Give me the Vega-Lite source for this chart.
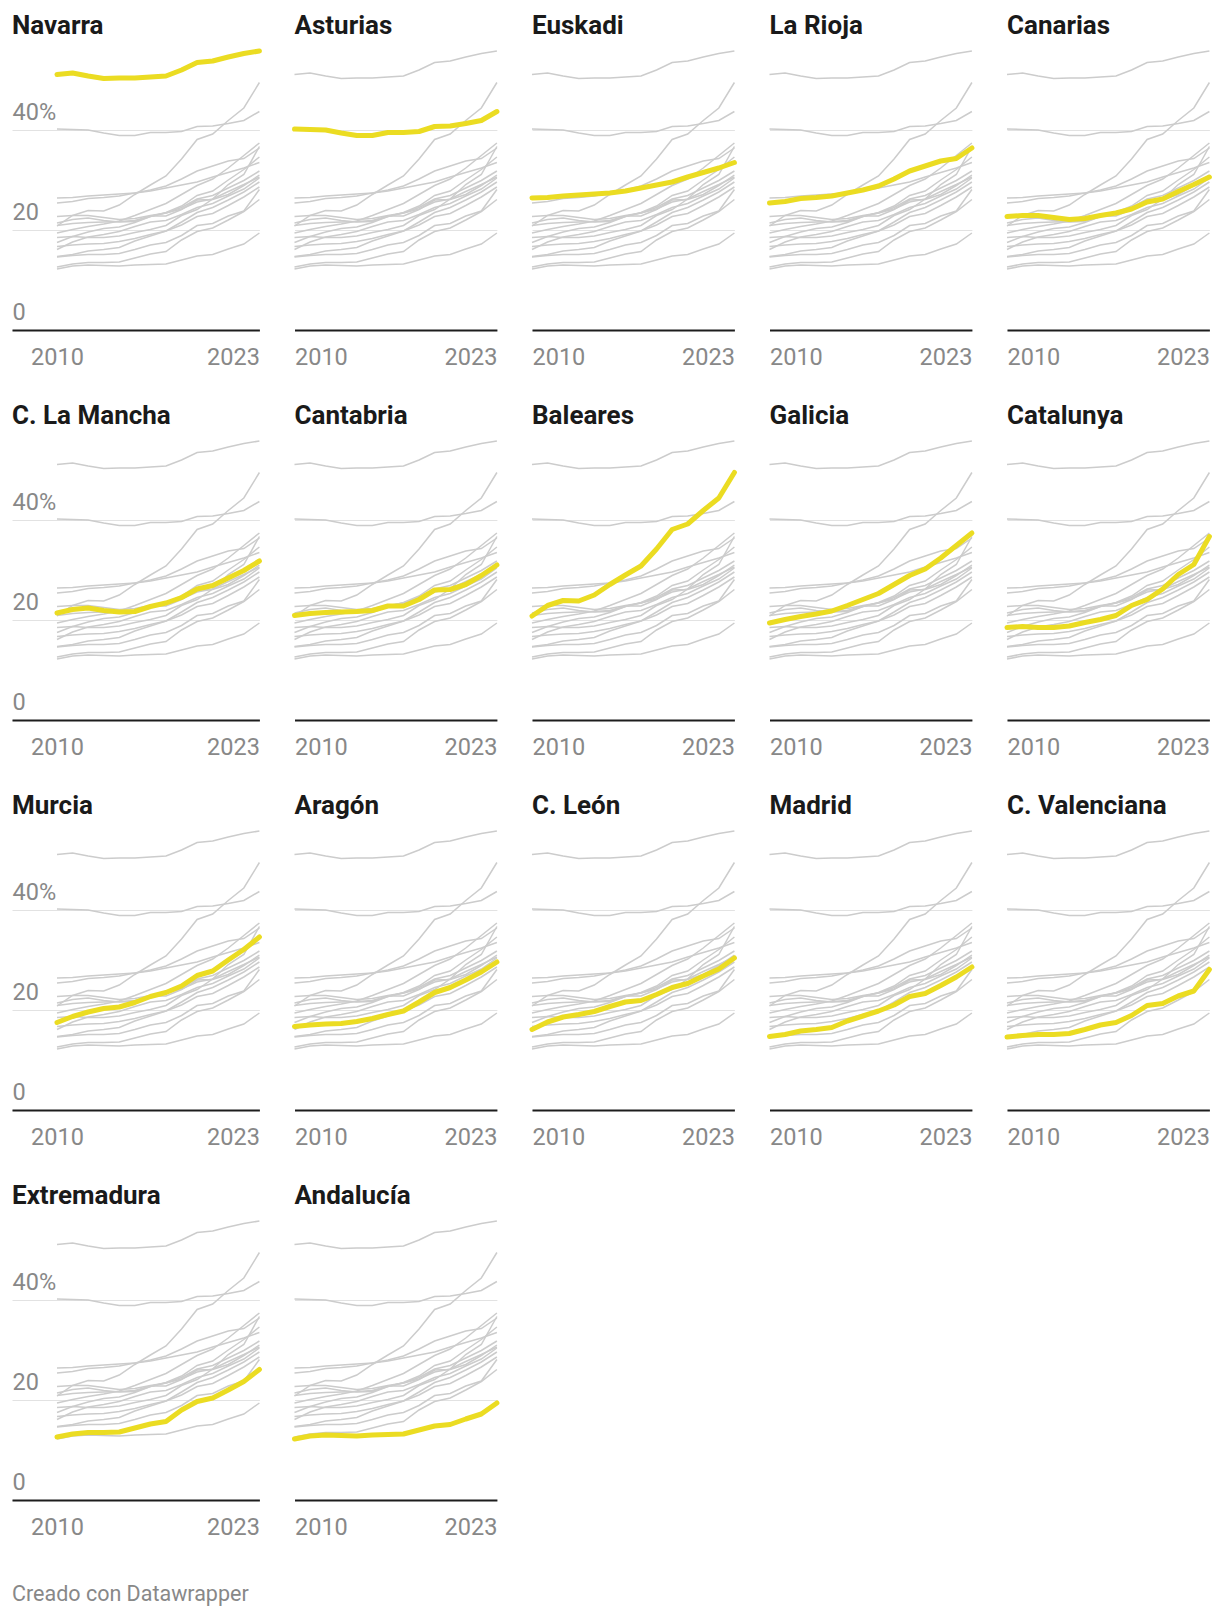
{
"$schema":"https://vega.github.io/schema/vega-lite/v6.json",
"background":"white",
"padding":{"left":12,"top":13,"right":10,"bottom":10},
"autosize":{"type":"pad"},
"title":{"text":"Creado con Datawrapper","orient":"bottom","anchor":"start","fontSize":21.5,"fontWeight":"normal","color":"#888888","baseline":"alphabetic","offset":62},
"columns":5,
"spacing":{"row":105,"column":34.5},
"align":"each",
"bounds":"flush",
"datasets":{"d":[
{"region":"Navarra","year":2010,"value":51.1},{"region":"Navarra","year":2011,"value":51.4},{"region":"Navarra","year":2012,"value":50.8},{"region":"Navarra","year":2013,"value":50.3},{"region":"Navarra","year":2014,"value":50.4},{"region":"Navarra","year":2015,"value":50.4},{"region":"Navarra","year":2016,"value":50.6},{"region":"Navarra","year":2017,"value":50.8},{"region":"Navarra","year":2018,"value":52.0},{"region":"Navarra","year":2019,"value":53.5},{"region":"Navarra","year":2020,"value":53.8},{"region":"Navarra","year":2021,"value":54.6},{"region":"Navarra","year":2022,"value":55.3},{"region":"Navarra","year":2023,"value":55.8},
{"region":"Asturias","year":2010,"value":40.2},{"region":"Asturias","year":2011,"value":40.1},{"region":"Asturias","year":2012,"value":40.0},{"region":"Asturias","year":2013,"value":39.4},{"region":"Asturias","year":2014,"value":38.9},{"region":"Asturias","year":2015,"value":38.9},{"region":"Asturias","year":2016,"value":39.5},{"region":"Asturias","year":2017,"value":39.5},{"region":"Asturias","year":2018,"value":39.7},{"region":"Asturias","year":2019,"value":40.7},{"region":"Asturias","year":2020,"value":40.8},{"region":"Asturias","year":2021,"value":41.3},{"region":"Asturias","year":2022,"value":41.9},{"region":"Asturias","year":2023,"value":43.7},
{"region":"Euskadi","year":2010,"value":26.4},{"region":"Euskadi","year":2011,"value":26.5},{"region":"Euskadi","year":2012,"value":26.8},{"region":"Euskadi","year":2013,"value":27.0},{"region":"Euskadi","year":2014,"value":27.2},{"region":"Euskadi","year":2015,"value":27.4},{"region":"Euskadi","year":2016,"value":27.8},{"region":"Euskadi","year":2017,"value":28.4},{"region":"Euskadi","year":2018,"value":29.0},{"region":"Euskadi","year":2019,"value":29.6},{"region":"Euskadi","year":2020,"value":30.6},{"region":"Euskadi","year":2021,"value":31.5},{"region":"Euskadi","year":2022,"value":32.4},{"region":"Euskadi","year":2023,"value":33.5},
{"region":"La Rioja","year":2010,"value":25.4},{"region":"La Rioja","year":2011,"value":25.7},{"region":"La Rioja","year":2012,"value":26.3},{"region":"La Rioja","year":2013,"value":26.5},{"region":"La Rioja","year":2014,"value":26.8},{"region":"La Rioja","year":2015,"value":27.4},{"region":"La Rioja","year":2016,"value":28.0},{"region":"La Rioja","year":2017,"value":28.8},{"region":"La Rioja","year":2018,"value":30.2},{"region":"La Rioja","year":2019,"value":31.8},{"region":"La Rioja","year":2020,"value":32.8},{"region":"La Rioja","year":2021,"value":33.8},{"region":"La Rioja","year":2022,"value":34.3},{"region":"La Rioja","year":2023,"value":36.4},
{"region":"Canarias","year":2010,"value":22.7},{"region":"Canarias","year":2011,"value":22.9},{"region":"Canarias","year":2012,"value":22.9},{"region":"Canarias","year":2013,"value":22.5},{"region":"Canarias","year":2014,"value":22.1},{"region":"Canarias","year":2015,"value":22.3},{"region":"Canarias","year":2016,"value":22.9},{"region":"Canarias","year":2017,"value":23.4},{"region":"Canarias","year":2018,"value":24.2},{"region":"Canarias","year":2019,"value":25.6},{"region":"Canarias","year":2020,"value":26.2},{"region":"Canarias","year":2021,"value":27.7},{"region":"Canarias","year":2022,"value":29.1},{"region":"Canarias","year":2023,"value":30.6},
{"region":"C. La Mancha","year":2010,"value":21.4},{"region":"C. La Mancha","year":2011,"value":22.1},{"region":"C. La Mancha","year":2012,"value":22.4},{"region":"C. La Mancha","year":2013,"value":21.9},{"region":"C. La Mancha","year":2014,"value":21.6},{"region":"C. La Mancha","year":2015,"value":21.7},{"region":"C. La Mancha","year":2016,"value":22.7},{"region":"C. La Mancha","year":2017,"value":23.4},{"region":"C. La Mancha","year":2018,"value":24.5},{"region":"C. La Mancha","year":2019,"value":26.2},{"region":"C. La Mancha","year":2020,"value":26.9},{"region":"C. La Mancha","year":2021,"value":28.4},{"region":"C. La Mancha","year":2022,"value":29.9},{"region":"C. La Mancha","year":2023,"value":31.8},
{"region":"Cantabria","year":2010,"value":20.9},{"region":"Cantabria","year":2011,"value":21.3},{"region":"Cantabria","year":2012,"value":21.5},{"region":"Cantabria","year":2013,"value":21.6},{"region":"Cantabria","year":2014,"value":21.7},{"region":"Cantabria","year":2015,"value":21.9},{"region":"Cantabria","year":2016,"value":22.8},{"region":"Cantabria","year":2017,"value":22.8},{"region":"Cantabria","year":2018,"value":24.1},{"region":"Cantabria","year":2019,"value":26.0},{"region":"Cantabria","year":2020,"value":26.1},{"region":"Cantabria","year":2021,"value":27.1},{"region":"Cantabria","year":2022,"value":28.9},{"region":"Cantabria","year":2023,"value":31.0},
{"region":"Baleares","year":2010,"value":20.8},{"region":"Baleares","year":2011,"value":22.9},{"region":"Baleares","year":2012,"value":23.9},{"region":"Baleares","year":2013,"value":23.8},{"region":"Baleares","year":2014,"value":25.0},{"region":"Baleares","year":2015,"value":27.1},{"region":"Baleares","year":2016,"value":29.0},{"region":"Baleares","year":2017,"value":30.8},{"region":"Baleares","year":2018,"value":34.2},{"region":"Baleares","year":2019,"value":38.1},{"region":"Baleares","year":2020,"value":39.2},{"region":"Baleares","year":2021,"value":41.9},{"region":"Baleares","year":2022,"value":44.4},{"region":"Baleares","year":2023,"value":49.5},
{"region":"Galicia","year":2010,"value":19.4},{"region":"Galicia","year":2011,"value":20.1},{"region":"Galicia","year":2012,"value":20.7},{"region":"Galicia","year":2013,"value":21.2},{"region":"Galicia","year":2014,"value":21.8},{"region":"Galicia","year":2015,"value":22.9},{"region":"Galicia","year":2016,"value":24.1},{"region":"Galicia","year":2017,"value":25.3},{"region":"Galicia","year":2018,"value":27.1},{"region":"Galicia","year":2019,"value":28.9},{"region":"Galicia","year":2020,"value":30.2},{"region":"Galicia","year":2021,"value":32.4},{"region":"Galicia","year":2022,"value":34.9},{"region":"Galicia","year":2023,"value":37.4},
{"region":"Catalunya","year":2010,"value":18.5},{"region":"Catalunya","year":2011,"value":18.7},{"region":"Catalunya","year":2012,"value":18.5},{"region":"Catalunya","year":2013,"value":18.5},{"region":"Catalunya","year":2014,"value":18.8},{"region":"Catalunya","year":2015,"value":19.5},{"region":"Catalunya","year":2016,"value":20.1},{"region":"Catalunya","year":2017,"value":20.9},{"region":"Catalunya","year":2018,"value":22.9},{"region":"Catalunya","year":2019,"value":24.1},{"region":"Catalunya","year":2020,"value":26.2},{"region":"Catalunya","year":2021,"value":29.1},{"region":"Catalunya","year":2022,"value":31.1},{"region":"Catalunya","year":2023,"value":36.7},
{"region":"Murcia","year":2010,"value":17.5},{"region":"Murcia","year":2011,"value":18.7},{"region":"Murcia","year":2012,"value":19.6},{"region":"Murcia","year":2013,"value":20.3},{"region":"Murcia","year":2014,"value":20.6},{"region":"Murcia","year":2015,"value":21.5},{"region":"Murcia","year":2016,"value":22.7},{"region":"Murcia","year":2017,"value":23.5},{"region":"Murcia","year":2018,"value":24.8},{"region":"Murcia","year":2019,"value":26.9},{"region":"Murcia","year":2020,"value":27.8},{"region":"Murcia","year":2021,"value":30.0},{"region":"Murcia","year":2022,"value":32.1},{"region":"Murcia","year":2023,"value":34.6},
{"region":"Aragón","year":2010,"value":16.7},{"region":"Aragón","year":2011,"value":17.0},{"region":"Aragón","year":2012,"value":17.2},{"region":"Aragón","year":2013,"value":17.3},{"region":"Aragón","year":2014,"value":17.7},{"region":"Aragón","year":2015,"value":18.3},{"region":"Aragón","year":2016,"value":19.1},{"region":"Aragón","year":2017,"value":19.8},{"region":"Aragón","year":2018,"value":21.6},{"region":"Aragón","year":2019,"value":23.5},{"region":"Aragón","year":2020,"value":24.5},{"region":"Aragón","year":2021,"value":26.0},{"region":"Aragón","year":2022,"value":27.6},{"region":"Aragón","year":2023,"value":29.6},
{"region":"C. León","year":2010,"value":16.1},{"region":"C. León","year":2011,"value":17.6},{"region":"C. León","year":2012,"value":18.6},{"region":"C. León","year":2013,"value":19.1},{"region":"C. León","year":2014,"value":19.7},{"region":"C. León","year":2015,"value":20.7},{"region":"C. León","year":2016,"value":21.6},{"region":"C. León","year":2017,"value":21.9},{"region":"C. León","year":2018,"value":23.1},{"region":"C. León","year":2019,"value":24.5},{"region":"C. León","year":2020,"value":25.3},{"region":"C. León","year":2021,"value":26.8},{"region":"C. León","year":2022,"value":28.2},{"region":"C. León","year":2023,"value":30.4},
{"region":"Madrid","year":2010,"value":14.7},{"region":"Madrid","year":2011,"value":15.1},{"region":"Madrid","year":2012,"value":15.8},{"region":"Madrid","year":2013,"value":16.1},{"region":"Madrid","year":2014,"value":16.5},{"region":"Madrid","year":2015,"value":17.8},{"region":"Madrid","year":2016,"value":18.8},{"region":"Madrid","year":2017,"value":19.8},{"region":"Madrid","year":2018,"value":21.0},{"region":"Madrid","year":2019,"value":22.7},{"region":"Madrid","year":2020,"value":23.3},{"region":"Madrid","year":2021,"value":24.9},{"region":"Madrid","year":2022,"value":26.6},{"region":"Madrid","year":2023,"value":28.6},
{"region":"C. Valenciana","year":2010,"value":14.6},{"region":"C. Valenciana","year":2011,"value":14.9},{"region":"C. Valenciana","year":2012,"value":15.1},{"region":"C. Valenciana","year":2013,"value":15.1},{"region":"C. Valenciana","year":2014,"value":15.3},{"region":"C. Valenciana","year":2015,"value":16.1},{"region":"C. Valenciana","year":2016,"value":17.0},{"region":"C. Valenciana","year":2017,"value":17.5},{"region":"C. Valenciana","year":2018,"value":18.9},{"region":"C. Valenciana","year":2019,"value":20.9},{"region":"C. Valenciana","year":2020,"value":21.3},{"region":"C. Valenciana","year":2021,"value":22.8},{"region":"C. Valenciana","year":2022,"value":23.8},{"region":"C. Valenciana","year":2023,"value":28.1},
{"region":"Extremadura","year":2010,"value":12.6},{"region":"Extremadura","year":2011,"value":13.2},{"region":"Extremadura","year":2012,"value":13.5},{"region":"Extremadura","year":2013,"value":13.5},{"region":"Extremadura","year":2014,"value":13.6},{"region":"Extremadura","year":2015,"value":14.4},{"region":"Extremadura","year":2016,"value":15.2},{"region":"Extremadura","year":2017,"value":15.7},{"region":"Extremadura","year":2018,"value":18.0},{"region":"Extremadura","year":2019,"value":19.7},{"region":"Extremadura","year":2020,"value":20.4},{"region":"Extremadura","year":2021,"value":22.0},{"region":"Extremadura","year":2022,"value":23.7},{"region":"Extremadura","year":2023,"value":26.1},
{"region":"Andalucía","year":2010,"value":12.2},{"region":"Andalucía","year":2011,"value":12.8},{"region":"Andalucía","year":2012,"value":13.0},{"region":"Andalucía","year":2013,"value":12.9},{"region":"Andalucía","year":2014,"value":12.8},{"region":"Andalucía","year":2015,"value":13.0},{"region":"Andalucía","year":2016,"value":13.1},{"region":"Andalucía","year":2017,"value":13.2},{"region":"Andalucía","year":2018,"value":14.0},{"region":"Andalucía","year":2019,"value":14.8},{"region":"Andalucía","year":2020,"value":15.1},{"region":"Andalucía","year":2021,"value":16.2},{"region":"Andalucía","year":2022,"value":17.2},{"region":"Andalucía","year":2023,"value":19.4}
]},
"concat":[
{"title":"Navarra","width":247.4,"height":285,"data":{"name":"d"},"encoding":{"x":{"field":"year","type":"quantitative","scale":{"domain":[2007.11,2023],"nice":false,"zero":false},"axis":{"title":null,"values":[2010,2023],"format":"d"}},"y":{"field":"value","type":"quantitative","scale":{"domain":[0,57],"nice":false},"axis":{"title":null,"values":[0,20,40],"labelExpr":"datum.value == 40 ? '40%' : datum.label"}}},"layer":[{"mark":{"type":"line","color":"#cccccc","strokeWidth":1.5},"encoding":{"detail":{"field":"region","type":"nominal"}}},{"transform":[{"filter":"datum.region === 'Navarra'"}],"mark":{"type":"line","color":"#ebdc22","strokeWidth":5,"strokeCap":"round","strokeJoin":"round"}}]},
{"title":"Asturias","width":202.4,"height":285,"data":{"name":"d"},"encoding":{"x":{"field":"year","type":"quantitative","scale":{"domain":[2010,2023],"nice":false,"zero":false},"axis":{"title":null,"values":[2010,2023],"format":"d"}},"y":{"field":"value","type":"quantitative","scale":{"domain":[0,57],"nice":false},"axis":{"title":null,"values":[0,20,40],"labels":false}}},"layer":[{"mark":{"type":"line","color":"#cccccc","strokeWidth":1.5},"encoding":{"detail":{"field":"region","type":"nominal"}}},{"transform":[{"filter":"datum.region === 'Asturias'"}],"mark":{"type":"line","color":"#ebdc22","strokeWidth":5,"strokeCap":"round","strokeJoin":"round"}}]},
{"title":"Euskadi","width":202.4,"height":285,"data":{"name":"d"},"encoding":{"x":{"field":"year","type":"quantitative","scale":{"domain":[2010,2023],"nice":false,"zero":false},"axis":{"title":null,"values":[2010,2023],"format":"d"}},"y":{"field":"value","type":"quantitative","scale":{"domain":[0,57],"nice":false},"axis":{"title":null,"values":[0,20,40],"labels":false}}},"layer":[{"mark":{"type":"line","color":"#cccccc","strokeWidth":1.5},"encoding":{"detail":{"field":"region","type":"nominal"}}},{"transform":[{"filter":"datum.region === 'Euskadi'"}],"mark":{"type":"line","color":"#ebdc22","strokeWidth":5,"strokeCap":"round","strokeJoin":"round"}}]},
{"title":"La Rioja","width":202.4,"height":285,"data":{"name":"d"},"encoding":{"x":{"field":"year","type":"quantitative","scale":{"domain":[2010,2023],"nice":false,"zero":false},"axis":{"title":null,"values":[2010,2023],"format":"d"}},"y":{"field":"value","type":"quantitative","scale":{"domain":[0,57],"nice":false},"axis":{"title":null,"values":[0,20,40],"labels":false}}},"layer":[{"mark":{"type":"line","color":"#cccccc","strokeWidth":1.5},"encoding":{"detail":{"field":"region","type":"nominal"}}},{"transform":[{"filter":"datum.region === 'La Rioja'"}],"mark":{"type":"line","color":"#ebdc22","strokeWidth":5,"strokeCap":"round","strokeJoin":"round"}}]},
{"title":"Canarias","width":202.4,"height":285,"data":{"name":"d"},"encoding":{"x":{"field":"year","type":"quantitative","scale":{"domain":[2010,2023],"nice":false,"zero":false},"axis":{"title":null,"values":[2010,2023],"format":"d"}},"y":{"field":"value","type":"quantitative","scale":{"domain":[0,57],"nice":false},"axis":{"title":null,"values":[0,20,40],"labels":false}}},"layer":[{"mark":{"type":"line","color":"#cccccc","strokeWidth":1.5},"encoding":{"detail":{"field":"region","type":"nominal"}}},{"transform":[{"filter":"datum.region === 'Canarias'"}],"mark":{"type":"line","color":"#ebdc22","strokeWidth":5,"strokeCap":"round","strokeJoin":"round"}}]},
{"title":"C. La Mancha","width":247.4,"height":285,"data":{"name":"d"},"encoding":{"x":{"field":"year","type":"quantitative","scale":{"domain":[2007.11,2023],"nice":false,"zero":false},"axis":{"title":null,"values":[2010,2023],"format":"d"}},"y":{"field":"value","type":"quantitative","scale":{"domain":[0,57],"nice":false},"axis":{"title":null,"values":[0,20,40],"labelExpr":"datum.value == 40 ? '40%' : datum.label"}}},"layer":[{"mark":{"type":"line","color":"#cccccc","strokeWidth":1.5},"encoding":{"detail":{"field":"region","type":"nominal"}}},{"transform":[{"filter":"datum.region === 'C. La Mancha'"}],"mark":{"type":"line","color":"#ebdc22","strokeWidth":5,"strokeCap":"round","strokeJoin":"round"}}]},
{"title":"Cantabria","width":202.4,"height":285,"data":{"name":"d"},"encoding":{"x":{"field":"year","type":"quantitative","scale":{"domain":[2010,2023],"nice":false,"zero":false},"axis":{"title":null,"values":[2010,2023],"format":"d"}},"y":{"field":"value","type":"quantitative","scale":{"domain":[0,57],"nice":false},"axis":{"title":null,"values":[0,20,40],"labels":false}}},"layer":[{"mark":{"type":"line","color":"#cccccc","strokeWidth":1.5},"encoding":{"detail":{"field":"region","type":"nominal"}}},{"transform":[{"filter":"datum.region === 'Cantabria'"}],"mark":{"type":"line","color":"#ebdc22","strokeWidth":5,"strokeCap":"round","strokeJoin":"round"}}]},
{"title":"Baleares","width":202.4,"height":285,"data":{"name":"d"},"encoding":{"x":{"field":"year","type":"quantitative","scale":{"domain":[2010,2023],"nice":false,"zero":false},"axis":{"title":null,"values":[2010,2023],"format":"d"}},"y":{"field":"value","type":"quantitative","scale":{"domain":[0,57],"nice":false},"axis":{"title":null,"values":[0,20,40],"labels":false}}},"layer":[{"mark":{"type":"line","color":"#cccccc","strokeWidth":1.5},"encoding":{"detail":{"field":"region","type":"nominal"}}},{"transform":[{"filter":"datum.region === 'Baleares'"}],"mark":{"type":"line","color":"#ebdc22","strokeWidth":5,"strokeCap":"round","strokeJoin":"round"}}]},
{"title":"Galicia","width":202.4,"height":285,"data":{"name":"d"},"encoding":{"x":{"field":"year","type":"quantitative","scale":{"domain":[2010,2023],"nice":false,"zero":false},"axis":{"title":null,"values":[2010,2023],"format":"d"}},"y":{"field":"value","type":"quantitative","scale":{"domain":[0,57],"nice":false},"axis":{"title":null,"values":[0,20,40],"labels":false}}},"layer":[{"mark":{"type":"line","color":"#cccccc","strokeWidth":1.5},"encoding":{"detail":{"field":"region","type":"nominal"}}},{"transform":[{"filter":"datum.region === 'Galicia'"}],"mark":{"type":"line","color":"#ebdc22","strokeWidth":5,"strokeCap":"round","strokeJoin":"round"}}]},
{"title":"Catalunya","width":202.4,"height":285,"data":{"name":"d"},"encoding":{"x":{"field":"year","type":"quantitative","scale":{"domain":[2010,2023],"nice":false,"zero":false},"axis":{"title":null,"values":[2010,2023],"format":"d"}},"y":{"field":"value","type":"quantitative","scale":{"domain":[0,57],"nice":false},"axis":{"title":null,"values":[0,20,40],"labels":false}}},"layer":[{"mark":{"type":"line","color":"#cccccc","strokeWidth":1.5},"encoding":{"detail":{"field":"region","type":"nominal"}}},{"transform":[{"filter":"datum.region === 'Catalunya'"}],"mark":{"type":"line","color":"#ebdc22","strokeWidth":5,"strokeCap":"round","strokeJoin":"round"}}]},
{"title":"Murcia","width":247.4,"height":285,"data":{"name":"d"},"encoding":{"x":{"field":"year","type":"quantitative","scale":{"domain":[2007.11,2023],"nice":false,"zero":false},"axis":{"title":null,"values":[2010,2023],"format":"d"}},"y":{"field":"value","type":"quantitative","scale":{"domain":[0,57],"nice":false},"axis":{"title":null,"values":[0,20,40],"labelExpr":"datum.value == 40 ? '40%' : datum.label"}}},"layer":[{"mark":{"type":"line","color":"#cccccc","strokeWidth":1.5},"encoding":{"detail":{"field":"region","type":"nominal"}}},{"transform":[{"filter":"datum.region === 'Murcia'"}],"mark":{"type":"line","color":"#ebdc22","strokeWidth":5,"strokeCap":"round","strokeJoin":"round"}}]},
{"title":"Aragón","width":202.4,"height":285,"data":{"name":"d"},"encoding":{"x":{"field":"year","type":"quantitative","scale":{"domain":[2010,2023],"nice":false,"zero":false},"axis":{"title":null,"values":[2010,2023],"format":"d"}},"y":{"field":"value","type":"quantitative","scale":{"domain":[0,57],"nice":false},"axis":{"title":null,"values":[0,20,40],"labels":false}}},"layer":[{"mark":{"type":"line","color":"#cccccc","strokeWidth":1.5},"encoding":{"detail":{"field":"region","type":"nominal"}}},{"transform":[{"filter":"datum.region === 'Aragón'"}],"mark":{"type":"line","color":"#ebdc22","strokeWidth":5,"strokeCap":"round","strokeJoin":"round"}}]},
{"title":"C. León","width":202.4,"height":285,"data":{"name":"d"},"encoding":{"x":{"field":"year","type":"quantitative","scale":{"domain":[2010,2023],"nice":false,"zero":false},"axis":{"title":null,"values":[2010,2023],"format":"d"}},"y":{"field":"value","type":"quantitative","scale":{"domain":[0,57],"nice":false},"axis":{"title":null,"values":[0,20,40],"labels":false}}},"layer":[{"mark":{"type":"line","color":"#cccccc","strokeWidth":1.5},"encoding":{"detail":{"field":"region","type":"nominal"}}},{"transform":[{"filter":"datum.region === 'C. León'"}],"mark":{"type":"line","color":"#ebdc22","strokeWidth":5,"strokeCap":"round","strokeJoin":"round"}}]},
{"title":"Madrid","width":202.4,"height":285,"data":{"name":"d"},"encoding":{"x":{"field":"year","type":"quantitative","scale":{"domain":[2010,2023],"nice":false,"zero":false},"axis":{"title":null,"values":[2010,2023],"format":"d"}},"y":{"field":"value","type":"quantitative","scale":{"domain":[0,57],"nice":false},"axis":{"title":null,"values":[0,20,40],"labels":false}}},"layer":[{"mark":{"type":"line","color":"#cccccc","strokeWidth":1.5},"encoding":{"detail":{"field":"region","type":"nominal"}}},{"transform":[{"filter":"datum.region === 'Madrid'"}],"mark":{"type":"line","color":"#ebdc22","strokeWidth":5,"strokeCap":"round","strokeJoin":"round"}}]},
{"title":"C. Valenciana","width":202.4,"height":285,"data":{"name":"d"},"encoding":{"x":{"field":"year","type":"quantitative","scale":{"domain":[2010,2023],"nice":false,"zero":false},"axis":{"title":null,"values":[2010,2023],"format":"d"}},"y":{"field":"value","type":"quantitative","scale":{"domain":[0,57],"nice":false},"axis":{"title":null,"values":[0,20,40],"labels":false}}},"layer":[{"mark":{"type":"line","color":"#cccccc","strokeWidth":1.5},"encoding":{"detail":{"field":"region","type":"nominal"}}},{"transform":[{"filter":"datum.region === 'C. Valenciana'"}],"mark":{"type":"line","color":"#ebdc22","strokeWidth":5,"strokeCap":"round","strokeJoin":"round"}}]},
{"title":"Extremadura","width":247.4,"height":285,"data":{"name":"d"},"encoding":{"x":{"field":"year","type":"quantitative","scale":{"domain":[2007.11,2023],"nice":false,"zero":false},"axis":{"title":null,"values":[2010,2023],"format":"d"}},"y":{"field":"value","type":"quantitative","scale":{"domain":[0,57],"nice":false},"axis":{"title":null,"values":[0,20,40],"labelExpr":"datum.value == 40 ? '40%' : datum.label"}}},"layer":[{"mark":{"type":"line","color":"#cccccc","strokeWidth":1.5},"encoding":{"detail":{"field":"region","type":"nominal"}}},{"transform":[{"filter":"datum.region === 'Extremadura'"}],"mark":{"type":"line","color":"#ebdc22","strokeWidth":5,"strokeCap":"round","strokeJoin":"round"}}]},
{"title":"Andalucía","width":202.4,"height":285,"data":{"name":"d"},"encoding":{"x":{"field":"year","type":"quantitative","scale":{"domain":[2010,2023],"nice":false,"zero":false},"axis":{"title":null,"values":[2010,2023],"format":"d"}},"y":{"field":"value","type":"quantitative","scale":{"domain":[0,57],"nice":false},"axis":{"title":null,"values":[0,20,40],"labels":false}}},"layer":[{"mark":{"type":"line","color":"#cccccc","strokeWidth":1.5},"encoding":{"detail":{"field":"region","type":"nominal"}}},{"transform":[{"filter":"datum.region === 'Andalucía'"}],"mark":{"type":"line","color":"#ebdc22","strokeWidth":5,"strokeCap":"round","strokeJoin":"round"}}]}
],
"config":{
"font":"Roboto",
"view":{"stroke":null},
"axisX":{"grid":false,"ticks":false,"domainColor":"#1d1d1d","domainWidth":2,"labelFont":"Roboto","labelFontSize":23.5,"labelColor":"#888888","labelFlush":true,"labelBaseline":"alphabetic","labelPadding":34,"labelOverlap":false,"minExtent":0},
"axisY":{"domain":false,"ticks":false,"grid":true,"gridColor":"#e2e2e2","gridWidth":1,"labelAlign":"left","labelPadding":0,"labelBaseline":"alphabetic","labelOffset":-11,"labelFont":"Roboto","labelFontSize":23.5,"labelColor":"#888888","minExtent":0,"maxExtent":0},
"title":{"anchor":"start","frame":"group","font":"Roboto","fontSize":26,"fontWeight":"bold","color":"#1a1a1a","baseline":"alphabetic","offset":6}
}
}
